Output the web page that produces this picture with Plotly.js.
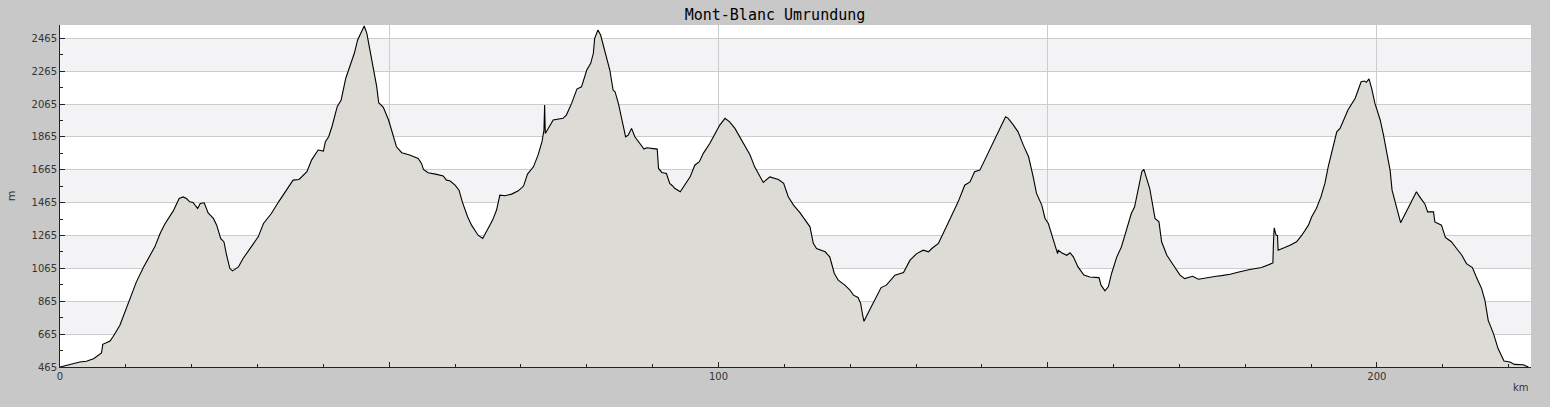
<!DOCTYPE html>
<html>
<head>
<meta charset="utf-8">
<script src="https://cdn.plot.ly/plotly-3.0.1.min.js"></script>
<style>
  html, body { margin: 0; padding: 0; background: #c8c8c8; }
  #chart { width: 1550px; height: 407px; }
</style>
</head>
<body>
<div id="chart"></div>
<script>
// Distance along the route (km)
const km = [
  0, 1.0, 3.0, 4.0, 5.1, 6.3, 6.5, 7.6, 8.1, 9.1, 9.9, 10.6, 11.6, 12.7, 13.4, 14.4, 15.2, 15.9, 17.2, 18.1,
  18.7, 19.2, 19.7, 20.2, 20.9, 21.3, 21.9, 22.5, 23.3, 23.8, 24.4, 24.9, 25.3, 25.8, 26.2, 27.1, 27.8, 28.9, 30.1, 30.9,
  32.1, 33.2, 34.4, 35.4, 36.3, 37.5, 38.2, 39.2, 40.0, 40.3, 40.8, 41.3, 42.1, 42.7, 43.4, 44.2, 44.7, 45.2, 45.8, 46.2,
  46.6, 47.1, 47.6, 48.1, 48.4, 49.1, 49.9, 50.6, 51.1, 51.9, 53.1, 54.4, 54.9, 55.2, 55.9, 57.2, 58.2, 58.7, 59.2, 60.0,
  60.6, 61.1, 61.9, 62.5, 63.0, 63.5, 64.2, 64.9, 65.7, 66.3, 66.8, 67.6, 68.6, 69.6, 70.4, 71.0, 71.9, 72.6, 73.2, 73.5,
  73.6, 73.7, 74.4, 74.9, 76.4, 76.9, 77.7, 78.5, 79.2, 80.0, 80.6, 81.0, 81.2, 81.7, 82.1, 82.8, 83.5, 84.0, 84.3, 84.8,
  85.3, 85.9, 86.3, 86.8, 87.3, 88.1, 88.7, 89.1, 90.7, 90.9, 91.4, 92.1, 92.6, 93.0, 93.4, 94.2, 94.9, 95.7, 96.4, 97.1,
  97.7, 98.7, 99.5, 100.2, 101.0, 101.7, 102.5, 103.5, 104.8, 105.5, 106.3, 106.8, 107.8, 109.1, 109.9, 110.6, 111.4, 112.4, 113.9, 114.4,
  114.9, 116.2, 116.9, 117.6, 118.2, 119.2, 120.0, 120.5, 121.2, 121.6, 121.9, 122.1, 122.8, 123.8, 124.7, 125.5, 126.8, 128.1, 129.1, 130.1,
  131.1, 131.9, 132.4, 133.4, 133.9, 135.2, 136.4, 137.4, 138.2, 138.9, 139.7, 140.7, 142.0, 143.0, 143.6, 144.0, 144.8, 145.5, 146.3, 147.1,
  147.8, 148.3, 149.1, 149.6, 150.1, 150.4, 150.8, 151.3, 151.5, 151.6, 152.1, 152.9, 153.4, 153.9, 154.6, 155.5, 156.4, 157.8, 158.1, 158.7,
  159.2, 159.7, 160.5, 161.2, 162.0, 162.7, 163.2, 163.8, 164.3, 164.6, 165.0, 165.5, 166.3, 166.9, 167.3, 168.1, 169.1, 170.1, 170.8, 171.5,
  172.0, 172.9, 174.1, 175.6, 176.4, 177.7, 179.2, 180.7, 182.5, 183.5, 184.2, 184.3, 184.4, 184.7, 184.9, 185.0, 185.3, 186.0, 186.8, 187.8,
  188.6, 189.6, 190.1, 190.8, 191.5, 192.1, 192.6, 193.4, 193.9, 194.4, 194.9, 195.6, 196.7, 197.2, 197.6, 198.1, 198.4, 198.8, 199.2, 199.7,
  200.5, 201.0, 201.5, 202.0, 202.3, 202.7, 203.1, 203.6, 204.3, 205.0, 205.5, 206.0, 206.5, 207.3, 207.7, 208.6, 208.8, 209.8, 210.4, 211.3,
  212.1, 212.9, 213.6, 214.5, 215.1, 215.9, 216.4, 216.9, 217.7, 218.4, 219.3, 220.2, 220.9, 222.2, 223.0
];
// Elevation (m)
const elev = [
  465, 475, 495, 500, 515, 550, 603, 623, 652, 719, 800, 871, 983, 1074, 1125, 1196, 1277, 1334, 1415, 1490,
  1500, 1490, 1470, 1466, 1430, 1460, 1464, 1403, 1369, 1328, 1247, 1226, 1145, 1064, 1050, 1074, 1125, 1186, 1257, 1338,
  1399, 1470, 1541, 1602, 1606, 1653, 1724, 1785, 1779, 1836, 1866, 1927, 2049, 2090, 2222, 2313, 2374, 2455, 2506, 2540,
  2495, 2394, 2273, 2171, 2073, 2045, 1968, 1876, 1805, 1769, 1755, 1734, 1704, 1667, 1647, 1637, 1627, 1602, 1598, 1572,
  1541, 1470, 1379, 1328, 1298, 1267, 1247, 1298, 1359, 1420, 1511, 1507, 1517, 1537, 1566, 1639, 1683, 1754, 1836, 1907,
  2059, 1886, 1937, 1968, 1978, 1998, 2069, 2156, 2170, 2272, 2313, 2374, 2465, 2516, 2485, 2374, 2272, 2150, 2140, 2069,
  1968, 1866, 1876, 1917, 1866, 1826, 1791, 1799, 1791, 1673, 1649, 1642, 1582, 1568, 1551, 1531, 1572, 1622, 1693, 1714,
  1765, 1826, 1886, 1937, 1978, 1957, 1917, 1846, 1755, 1683, 1622, 1588, 1622, 1606, 1582, 1501, 1450, 1403, 1318, 1217,
  1186, 1166, 1135, 1034, 993, 963, 932, 902, 888, 851, 780, 743, 800, 881, 948, 963, 1024, 1040, 1115, 1155,
  1176, 1166, 1186, 1217, 1257, 1369, 1470, 1571, 1591, 1653, 1663, 1744, 1846, 1937, 1988, 1978, 1937, 1896, 1815, 1744,
  1622, 1521, 1450, 1369, 1338, 1298, 1247, 1176, 1155, 1176, 1160, 1145, 1160, 1135, 1074, 1024, 1013, 1009, 963, 928,
  953, 1034, 1135, 1196, 1298, 1399, 1440, 1561, 1653, 1667, 1612, 1551, 1369, 1348, 1227, 1145, 1084, 1024, 1003, 1009,
  1017, 999, 1009, 1017, 1021, 1029, 1044, 1058, 1070, 1084, 1098, 1235, 1312, 1265, 1265, 1176, 1180, 1192, 1206, 1227,
  1267, 1328, 1379, 1430, 1500, 1582, 1683, 1805, 1896, 1917, 1968, 2029, 2100, 2161, 2201, 2205, 2197, 2218, 2161, 2069,
  1968, 1876, 1765, 1663, 1541, 1470, 1420, 1343, 1399, 1460, 1500, 1531, 1500, 1456, 1409, 1409, 1348, 1328, 1253, 1227,
  1186, 1145, 1094, 1070, 1013, 942, 871, 749, 668, 577, 502, 495, 481, 479, 465
];
// Axis ticks
const yTicks = [465, 665, 865, 1065, 1265, 1465, 1665, 1865, 2065, 2265, 2465];
const xTickVals = [0, 50, 100, 150, 200];
const xTickText = ['0', '', '100', '', '200'];

// Alternating shaded bands between y gridlines
const bands = [];
for (let i = 1; i + 1 < yTicks.length; i += 2) {
  bands.push({
    type: 'rect', xref: 'paper', yref: 'y', x0: 0, x1: 1,
    y0: yTicks[i], y1: yTicks[i + 1],
    fillcolor: '#f3f2f5', line: { width: 0 }, layer: 'below'
  });
}

const trace = {
  x: km, y: elev, type: 'scatter', mode: 'lines',
  fill: 'tozeroy', fillcolor: '#dcdbd6',
  line: { color: '#000000', width: 1.1 },
  hoverinfo: 'x+y'
};

const tickFont = { family: 'DejaVu Sans, sans-serif', size: 10, color: '#333333' };

const layout = {
  width: 1550, height: 407,
  paper_bgcolor: '#c8c8c8', plot_bgcolor: '#ffffff',
  margin: { l: 60, r: 19, t: 25, b: 40, pad: 0 },
  showlegend: false,
  title: {
    text: 'Mont-Blanc Umrundung',
    font: { family: 'DejaVu Sans Mono, monospace', size: 15, color: '#000000' },
    x: 0.5, xanchor: 'center', y: 1, yref: 'paper', yanchor: 'bottom', pad: { b: 5 }
  },
  xaxis: {
    range: [0, 223.4], tickmode: 'array', tickvals: xTickVals, ticktext: xTickText,
    ticks: 'inside', ticklen: 5, tickcolor: '#222', tickwidth: 1,
    showgrid: true, gridcolor: '#cccccc', gridwidth: 1,
    showline: true, linecolor: '#222', linewidth: 1,
    zeroline: false, tickfont: tickFont,
    minor: { dtick: 10, tick0: 0, ticks: 'inside', ticklen: 3, tickcolor: '#222', showgrid: false },
    fixedrange: true
  },
  yaxis: {
    range: [465, 2546], tickmode: 'array', tickvals: yTicks,
    ticks: 'inside', ticklen: 5, tickcolor: '#222', tickwidth: 1,
    showgrid: true, gridcolor: '#cccccc', gridwidth: 1,
    showline: true, linecolor: '#222', linewidth: 1,
    zeroline: false, tickfont: tickFont,
    title: { text: 'm', font: { family: 'DejaVu Sans, sans-serif', size: 11, color: '#333333' }, standoff: 13 },
    minor: { dtick: 100, tick0: 465, ticks: 'inside', ticklen: 3, tickcolor: '#222', showgrid: false },
    fixedrange: true
  },
  shapes: bands,
  annotations: [{
    text: 'km', xref: 'paper', yref: 'paper', x: 1, y: 0, xanchor: 'right', yanchor: 'top',
    yshift: -13, xshift: 0, showarrow: false,
    font: { family: 'DejaVu Sans, sans-serif', size: 10, color: '#333333' }
  }]
};

Plotly.newPlot('chart', [trace], layout, { displayModeBar: false, staticPlot: true });
</script>
</body>
</html>
